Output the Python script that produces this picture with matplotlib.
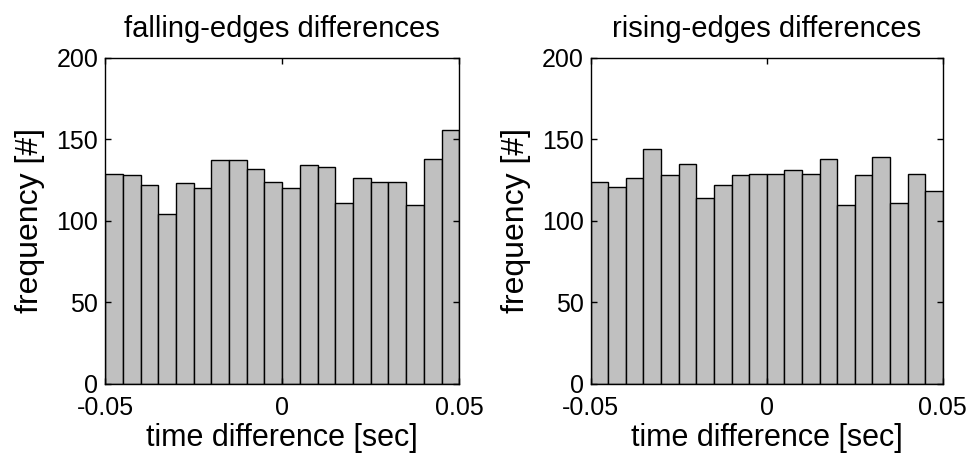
import numpy as np
import matplotlib
matplotlib.use("Agg")
import matplotlib.pyplot as plt

plt.rcParams["font.family"] = ["Liberation Sans", "DejaVu Sans"]

# histogram counts, 20 bins of 5 ms between -0.05 and 0.05 s
bin_edges = np.linspace(-0.05, 0.05, 21)
falling_counts = [129, 128, 122, 104, 123, 120, 137, 137, 132, 124,
                  120, 134, 133, 111, 126, 124, 124, 110, 138, 156]
rising_counts = [124, 121, 126, 144, 128, 135, 114, 122, 128, 129,
                 129, 131, 129, 138, 110, 128, 139, 111, 129, 118]

titles = ["falling-edges differences", "rising-edges differences"]
x_ticks = [-0.05, 0, 0.05]
x_ticklabels = ["-0.05", "0", "0.05"]
y_ticks = [0, 50, 100, 150, 200]

fig = plt.figure(figsize=(9.73, 4.62), dpi=100)
ax1 = fig.add_axes([0.108, 0.169, 0.364, 0.706])
ax2 = fig.add_axes([0.607, 0.169, 0.362, 0.706])

for ax, counts, title in zip([ax1, ax2], [falling_counts, rising_counts], titles):
    ax.bar(bin_edges[:-1], counts, width=np.diff(bin_edges), align="edge",
           color="#c0c0c0", edgecolor="black", linewidth=1.0)
    ax.set_xlim(-0.05, 0.05)
    ax.set_ylim(0, 200)
    ax.set_xticks(x_ticks)
    ax.set_xticklabels(x_ticklabels)
    ax.set_yticks(y_ticks)
    ax.tick_params(direction="in", top=True, right=True, length=4,
                   labelsize=18, width=1)
    ax.tick_params(axis="x", pad=9)
    ax.tick_params(axis="y", pad=5)
    for s in ax.spines.values():
        s.set_linewidth(1.0)
    ax.set_title(title, fontsize=21, pad=15)
    ax.set_xlabel("time difference [sec]", fontsize=22, labelpad=2)
    ax.set_ylabel("frequency [#]", fontsize=23, labelpad=8)

fig.savefig("out.png", dpi=100)
